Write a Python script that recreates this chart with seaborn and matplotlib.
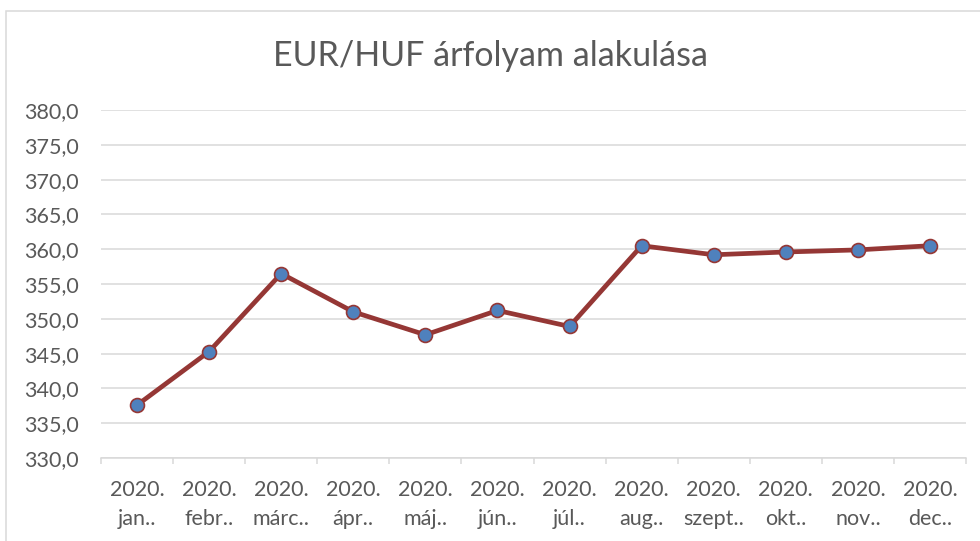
import matplotlib
matplotlib.use("Agg")
import matplotlib.pyplot as plt
import pandas as pd
import seaborn as sns
from matplotlib.patches import Rectangle
from matplotlib.ticker import FixedLocator

# monthly EUR/HUF averages
months = ["2020.\njan..", "2020.\nfebr..", "2020.\nmárc..", "2020.\nápr..",
          "2020.\nmáj..", "2020.\njún..", "2020.\njúl..", "2020.\naug..",
          "2020.\nszept..", "2020.\nokt..", "2020.\nnov..", "2020.\ndec.."]
rates = [337.6, 345.3, 356.5, 351.0, 347.7, 351.2, 348.9, 360.5,
         359.2, 359.6, 359.9, 360.5]
y_ticks = [330, 335, 340, 345, 350, 355, 360, 365, 370, 375, 380]

TEXT = "#595959"
GRID = "#D9D9D9"
LINE = "#953735"
MARKER = "#4F81BD"

sns.set_theme(style="white")
plt.rcParams["font.family"] = ["Lato", "DejaVu Sans"]

df = pd.DataFrame({"month": months, "rate": rates})

fig = plt.figure(figsize=(9.8, 5.41), dpi=100)
ax = fig.add_axes([101 / 980, 83 / 541, 865 / 980, 348 / 541])

sns.lineplot(data=df, x="month", y="rate", ax=ax, color=LINE, linewidth=3.4,
             marker="o", markersize=10, markerfacecolor=MARKER,
             markeredgecolor=LINE, markeredgewidth=1.2, sort=False, zorder=3)

ax.set_xlim(-0.5, len(months) - 0.5)
ax.set_ylim(330, 380)
ax.set_yticks(y_ticks)
ax.set_yticklabels([f"{v:.1f}".replace(".", ",") for v in y_ticks])
ax.yaxis.grid(True, color=GRID, linewidth=1.1)
ax.set_axisbelow(True)
ax.set_xlabel("")
ax.set_ylabel("")

for side in ["left", "right", "top"]:
    ax.spines[side].set_visible(False)
ax.spines["bottom"].set_color(GRID)
ax.spines["bottom"].set_linewidth(1.1)

ax.tick_params(axis="y", length=0, pad=16, labelsize=15.5, labelcolor=TEXT)
ax.tick_params(axis="x", which="major", length=0, pad=16, labelsize=15.5,
               labelcolor=TEXT)
ax.xaxis.set_minor_locator(FixedLocator([i - 0.5 for i in range(len(months) + 1)]))
ax.tick_params(axis="x", which="minor", length=4.5, width=1.1, color=GRID,
               bottom=True)
for lbl in ax.get_xticklabels():
    lbl.set_linespacing(1.55)

fig.text(0.5, 1 - 56 / 541, "EUR/HUF árfolyam alakulása", ha="center",
         va="center", fontsize=24.5, color=TEXT)

# chart area border (only top and left visible in the crop)
fig.patches.append(Rectangle((6 / 980, -0.2), 1.2, 1.2 - 11 / 541,
                             transform=fig.transFigure, fill=False,
                             edgecolor=GRID, linewidth=1.1))

fig.savefig("out.png", dpi=100)
